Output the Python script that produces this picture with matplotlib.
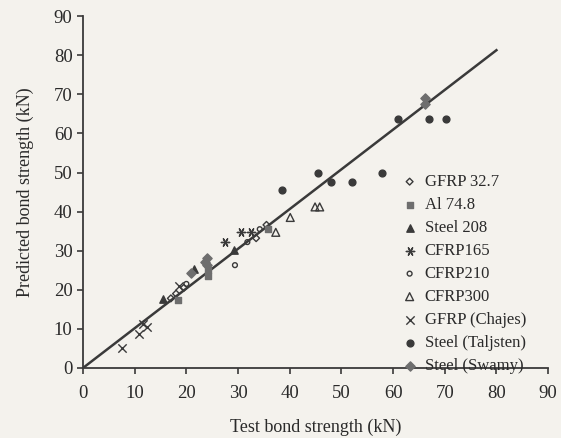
import matplotlib
matplotlib.use('Agg')
import matplotlib.pyplot as plt

plt.rcParams['font.family'] = 'Liberation Serif'
plt.rcParams['font.size'] = 11.5

# test / predicted bond strength (kN)
gfrp327_x = [17.0, 18.0, 19.5, 33.5, 35.5]
gfrp327_y = [17.8, 19.0, 20.5, 33.2, 36.6]
al748_x = [18.4, 24.2, 24.2, 35.8]
al748_y = [17.3, 23.5, 25.0, 35.6]
steel208_x = [15.4, 21.5, 29.3]
steel208_y = [17.6, 25.2, 30.2]
cfrp165_x = [27.5, 30.5, 32.5]
cfrp165_y = [32.3, 34.7, 34.7]
cfrp210_x = [20.0, 29.4, 31.8, 34.2]
cfrp210_y = [21.5, 26.3, 32.2, 35.5]
cfrp300_x = [37.3, 40.1, 44.9, 45.8]
cfrp300_y = [34.7, 38.5, 41.2, 41.2]
chajes_x = [7.6, 10.8, 11.6, 12.4, 18.5]
chajes_y = [5.1, 8.6, 11.2, 10.5, 21.0]
taljsten_x = [38.5, 45.5, 48.0, 52.1, 57.8, 61.0, 66.9, 70.3]
taljsten_y = [45.4, 49.8, 47.6, 47.5, 49.8, 63.6, 63.6, 63.6]
swamy_x = [20.8, 23.6, 24.0, 24.0, 66.1, 66.1]
swamy_y = [24.3, 27.0, 26.3, 28.0, 67.5, 69.0]

fit_x = [0, 80]
fit_y = [0, 81.3]

fig = plt.figure(figsize=(5.61, 4.38), dpi=100)
fig.patch.set_facecolor('#f4f2ed')
ax = fig.add_axes([0.148, 0.160, 0.829, 0.803])
ax.set_facecolor('#f4f2ed')

dark = '#3a3a3a'
grey = '#6e6e6e'
ax.plot(fit_x, fit_y, color=dark, linewidth=1.8, zorder=1)

ax.scatter(gfrp327_x, gfrp327_y, marker='D', s=12, facecolors='none', edgecolors=dark, linewidths=1, label='GFRP 32.7')
ax.scatter(al748_x, al748_y, marker='s', s=20, color=grey, label='Al 74.8')
ax.scatter(steel208_x, steel208_y, marker='^', s=28, color=dark, label='Steel 208')
ax.scatter(cfrp165_x, cfrp165_y, marker=(6, 2, 90), s=36, color=dark, linewidths=1, label='CFRP165')
ax.scatter(cfrp210_x, cfrp210_y, marker='o', s=12, facecolors='none', edgecolors=dark, linewidths=1, label='CFRP210')
ax.scatter(cfrp300_x, cfrp300_y, marker='^', s=32, facecolors='none', edgecolors=dark, linewidths=1, label='CFRP300')
ax.scatter(chajes_x, chajes_y, marker='x', s=36, color=dark, linewidths=1, label='GFRP (Chajes)')
ax.scatter(taljsten_x, taljsten_y, marker='o', s=24, color=dark, label='Steel (Taljsten)')
ax.scatter(swamy_x, swamy_y, marker='D', s=22, color=grey, label='Steel (Swamy)')

ax.set_xlim(0, 90)
ax.set_ylim(0, 90)
ax.set_xticks(range(0, 91, 10))
ax.set_yticks(range(0, 91, 10))
ax.spines['top'].set_visible(False)
ax.spines['right'].set_visible(False)
for s in ['left', 'bottom']:
    ax.spines[s].set_linewidth(1.3)
    ax.spines[s].set_color(dark)
ax.tick_params(direction='out', length=4, width=1.2, colors=dark, labelsize=13.5, labelcolor='#2a2a2a')
ax.tick_params(axis='x', pad=8)

ax.set_xlabel('Test bond strength (kN)', fontsize=13, color='#2a2a2a', labelpad=12)
ax.set_ylabel('Predicted bond strength (kN)', fontsize=13, color='#2a2a2a', labelpad=14)

ax.legend(loc='upper left', bbox_to_anchor=(0.67, 0.575), frameon=False,
          handlelength=0.8, handletextpad=0.5, labelspacing=0.42, borderpad=0,
          fontsize=12, labelcolor='#2a2a2a')

fig.savefig('out.png', dpi=100, facecolor=fig.get_facecolor())
